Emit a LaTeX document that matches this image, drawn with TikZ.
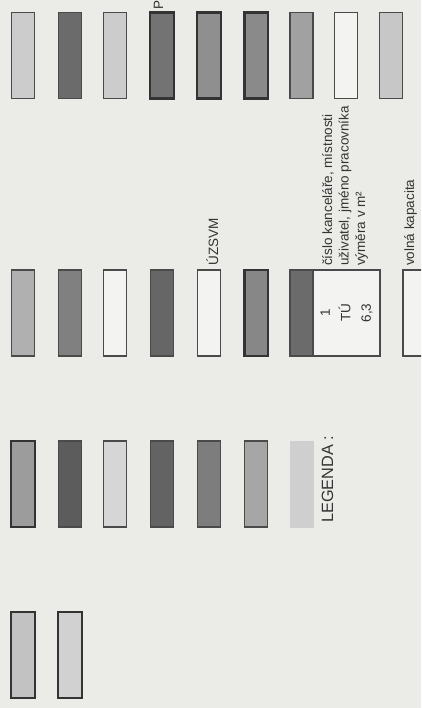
\documentclass[tikz,border=0pt]{standalone}
\usepackage{fontspec}
\setmainfont{Liberation Sans}
\definecolor{paper}{HTML}{EBEBE8}
\definecolor{edge}{HTML}{4A4A4A}
\definecolor{blank}{HTML}{F3F3F1}
\begin{document}
\begin{tikzpicture}[
    x=1pt, y=-1pt,
    font=\fontsize{13.5}{16.5}\selectfont,
    text=black!80,
    swatch/.style={draw=edge, line width=1.1pt, inner sep=0pt, minimum width=23pt, minimum height=86pt},
    heavy/.style={swatch, draw=black!80, line width=2.2pt, minimum width=23.5pt},
    bare/.style={swatch, draw=none, minimum width=24pt, minimum height=87pt},
    note/.style={rotate=90, anchor=base west, inner sep=0pt}
    ]

% scanned sheet, rotated legend
\fill[paper] (0,0) rectangle (421,708);
\clip (0,0) rectangle (421,708);

% Row 1 (fixed coordinates)
\node[swatch, fill=gray!40!white] (a1) at (23,55.5)    {};
\node[swatch, fill=black!58]      (a2) at (70,55.5)    {};
\node[swatch, fill=black!20]      (a3) at (115.3,55.5) {};
\node[heavy,  fill=black!55]      (a4) at (162,55.5)   {};
\node[heavy,  fill=black!44]      (a5) at (209,55.5)   {};
\node[heavy,  fill=black!46]      (a6) at (256.3,55.5) {};
\node[swatch, fill=black!37]      (a7) at (301.5,55.5) {};
\node[swatch, fill=blank]         (a8) at (346.3,55.5) {};
\node[swatch, fill=black!22]      (a9) at (391,55.5)   {};
\node[note] (pnote) at (163,9.5) {P};

% Row 2
\node[swatch, fill=black!31] (b1) at (23,313)    {};
\node[swatch, fill=black!50] (b2) at (70,313)    {};
\node[swatch, fill=blank]    (b3) at (115.3,313) {};
\node[swatch, fill=black!60] (b4) at (162,313)   {};
\node[swatch, fill=blank]    (b5) at (209,313)   {};
\node[heavy,  fill=black!47] (b6) at (256.3,313) {};
\node[swatch, fill=black!58] (b7) at (301.5,313) {};
\node[swatch, fill=blank, rotate=90, minimum width=86pt, minimum height=67pt,
      align=center, font=\fontsize{13.5}{20.5}\selectfont] (room) at (346.5,313) {1\\TÚ\\6,3};
\node[swatch, fill=blank]    (b9) at (414.5,313) {};

% Texts above row 2
\node[note] (agency) at (218,265.5) {ÚZSVM};
\node[note] (keyA)   at (332,266)   {číslo kanceláře, místnosti};
\node[note] (keyB)   at (348.5,266) {uživatel, jméno pracovníka};
\node[note] (keyC)   at (365,266)   {výměra v m²};
\node[note] (free)   at (414,266)   {volná kapacita};

% Row 3
\node[heavy,  fill=black!39] (c1) at (23,484)    {};
\node[swatch, fill=black!64] (c2) at (70,484)    {};
\node[swatch, fill=black!16] (c3) at (115.3,484) {};
\node[swatch, fill=black!61] (c4) at (162,484)   {};
\node[swatch, fill=black!51] (c5) at (209,484)   {};
\node[swatch, fill=black!35] (c6) at (256.3,484) {};
\node[bare,   fill=black!19] (c7) at (301.5,484) {};
\node[note, font=\fontsize{16.3}{19}\selectfont] (legend) at (333,523) {LEGENDA :};

% Row 4
\node[heavy, fill=black!24] (d1) at (23,655) {};
\node[heavy, fill=black!18] (d2) at (70,655) {};

\end{tikzpicture}
\end{document}
